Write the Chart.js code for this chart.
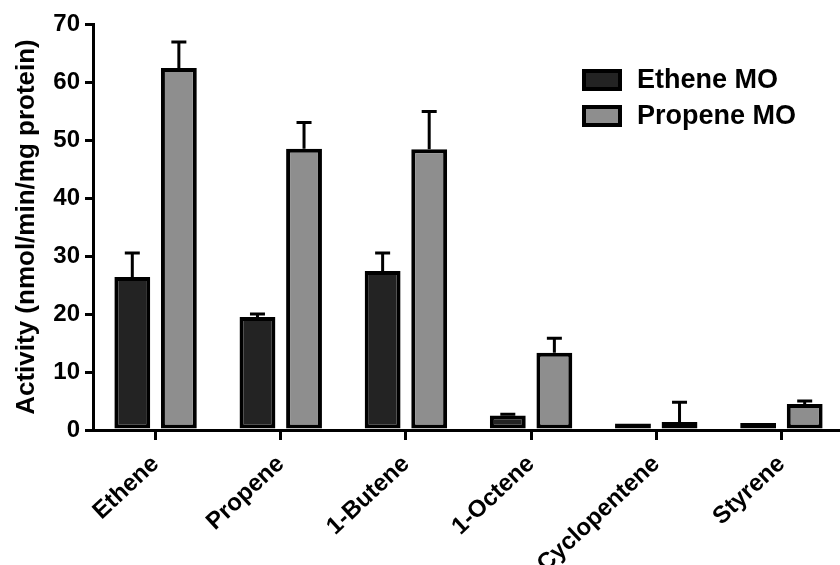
<!DOCTYPE html>
<html>
<head>
<meta charset="utf-8">
<script src="https://cdn.jsdelivr.net/npm/chart.js@4.4.1/dist/chart.umd.min.js"></script>
<style>
  html, body { margin: 0; padding: 0; background: #fff; overflow: hidden; }
  canvas { display: block; }
</style>
</head>
<body>
<canvas id="chart" width="845" height="565"></canvas>
<script>
// ===== data =====
const substrates = ["Ethene", "Propene", "1-Butene", "1-Octene", "Cyclopentene", "Styrene"];
const etheneMO = [26.4, 19.5, 27.4, 2.5, 1.1, 1.2];
const propeneMO = [62.4, 48.5, 48.4, 13.3, 1.4, 4.5];
const etheneMOErr = [4.1, 0.5, 3.1, 0.2, 0, 0];
const propeneMOErr = [4.5, 4.5, 6.5, 2.5, 3.4, 0.5];
const yTicks = [0, 10, 20, 30, 40, 50, 60, 70];

const FONT = '"Liberation Sans", Arial, sans-serif';
const errors = [etheneMOErr, propeneMOErr];

// ===== upper error bars =====
const errorBars = {
  id: 'errorBars',
  afterDatasetsDraw(chart) {
    const ctx = chart.ctx;
    const y = chart.scales.y;
    ctx.save();
    ctx.strokeStyle = '#000';
    ctx.lineWidth = 3;
    chart.data.datasets.forEach((ds, i) => {
      const meta = chart.getDatasetMeta(i);
      meta.data.forEach((bar, j) => {
        const err = errors[i][j];
        if (!err) return;
        const top = y.getPixelForValue(ds.data[j]);
        const end = y.getPixelForValue(ds.data[j] + err);
        ctx.beginPath();
        ctx.moveTo(bar.x, top);
        ctx.lineTo(bar.x, end);
        ctx.moveTo(bar.x - 7.5, end);
        ctx.lineTo(bar.x + 7.5, end);
        ctx.stroke();
      });
    });
    ctx.restore();
  }
};

// ===== legend drawn inside the plot =====
const boxLegend = {
  id: 'boxLegend',
  afterDraw(chart) {
    const ctx = chart.ctx;
    ctx.save();
    chart.data.datasets.forEach((ds, i) => {
      const top = 69 + i * 36;
      ctx.fillStyle = '#000';
      ctx.fillRect(582, top, 40, 22);
      ctx.fillStyle = ds.backgroundColor;
      ctx.fillRect(586, top + 4, 32, 14);
      ctx.fillStyle = '#000';
      ctx.font = 'bold 27px ' + FONT;
      ctx.textBaseline = 'middle';
      ctx.fillText(ds.label, 637, top + 12);
    });
    ctx.restore();
  }
};

const chart = document.getElementById('chart');

new Chart(chart, {
  type: 'bar',
  data: {
    labels: substrates,
    datasets: [{
      label: 'Ethene MO',
      data: etheneMO,
      backgroundColor: '#232323',
      borderColor: '#000',
      borderWidth: 4,
      borderSkipped: false,
      categoryPercentage: 0.744,
      barPercentage: 0.77
    }, {
      label: 'Propene MO',
      data: propeneMO,
      backgroundColor: '#8e8e8e',
      borderColor: '#000',
      borderWidth: 4,
      borderSkipped: false,
      categoryPercentage: 0.744,
      barPercentage: 0.77
    }]
  },
  options: {
    responsive: false,
    animation: false,
    layout: { padding: { top: 24, right: 1, left: 0, bottom: 0 } },
    plugins: {
      legend: { display: false },
      tooltip: { enabled: false }
    },
    scales: {
      x: {
        grid: { drawOnChartArea: false, drawTicks: true, tickLength: 10, lineWidth: 3, color: '#000', offset: false },
        border: { display: true, color: '#000', width: 3 },
        ticks: {
          color: '#000',
          font: { family: FONT, size: 24, weight: 'bold' },
          minRotation: 43,
          maxRotation: 43,
          padding: 10,
          autoSkip: false
        },
        afterFit(scale) { scale.height = 135; }
      },
      y: {
        min: 0,
        max: 70,
        afterBuildTicks(scale) { scale.ticks = yTicks.map(v => ({ value: v })); },
        grid: { drawOnChartArea: false, tickLength: 8, lineWidth: 3, color: '#000' },
        border: { color: '#000', width: 3 },
        ticks: {
          color: '#000',
          font: { family: FONT, size: 24, weight: 'bold' },
          padding: 5
        },
        title: {
          display: true,
          text: 'Activity (nmol/min/mg protein)',
          color: '#000',
          font: { family: FONT, size: 26, weight: 'bold' },
          padding: { top: 11, bottom: 0 }
        },
        afterFit(scale) { scale.width = 93; }
      }
    }
  },
  plugins: [errorBars, boxLegend]
});
</script>
</body>
</html>
